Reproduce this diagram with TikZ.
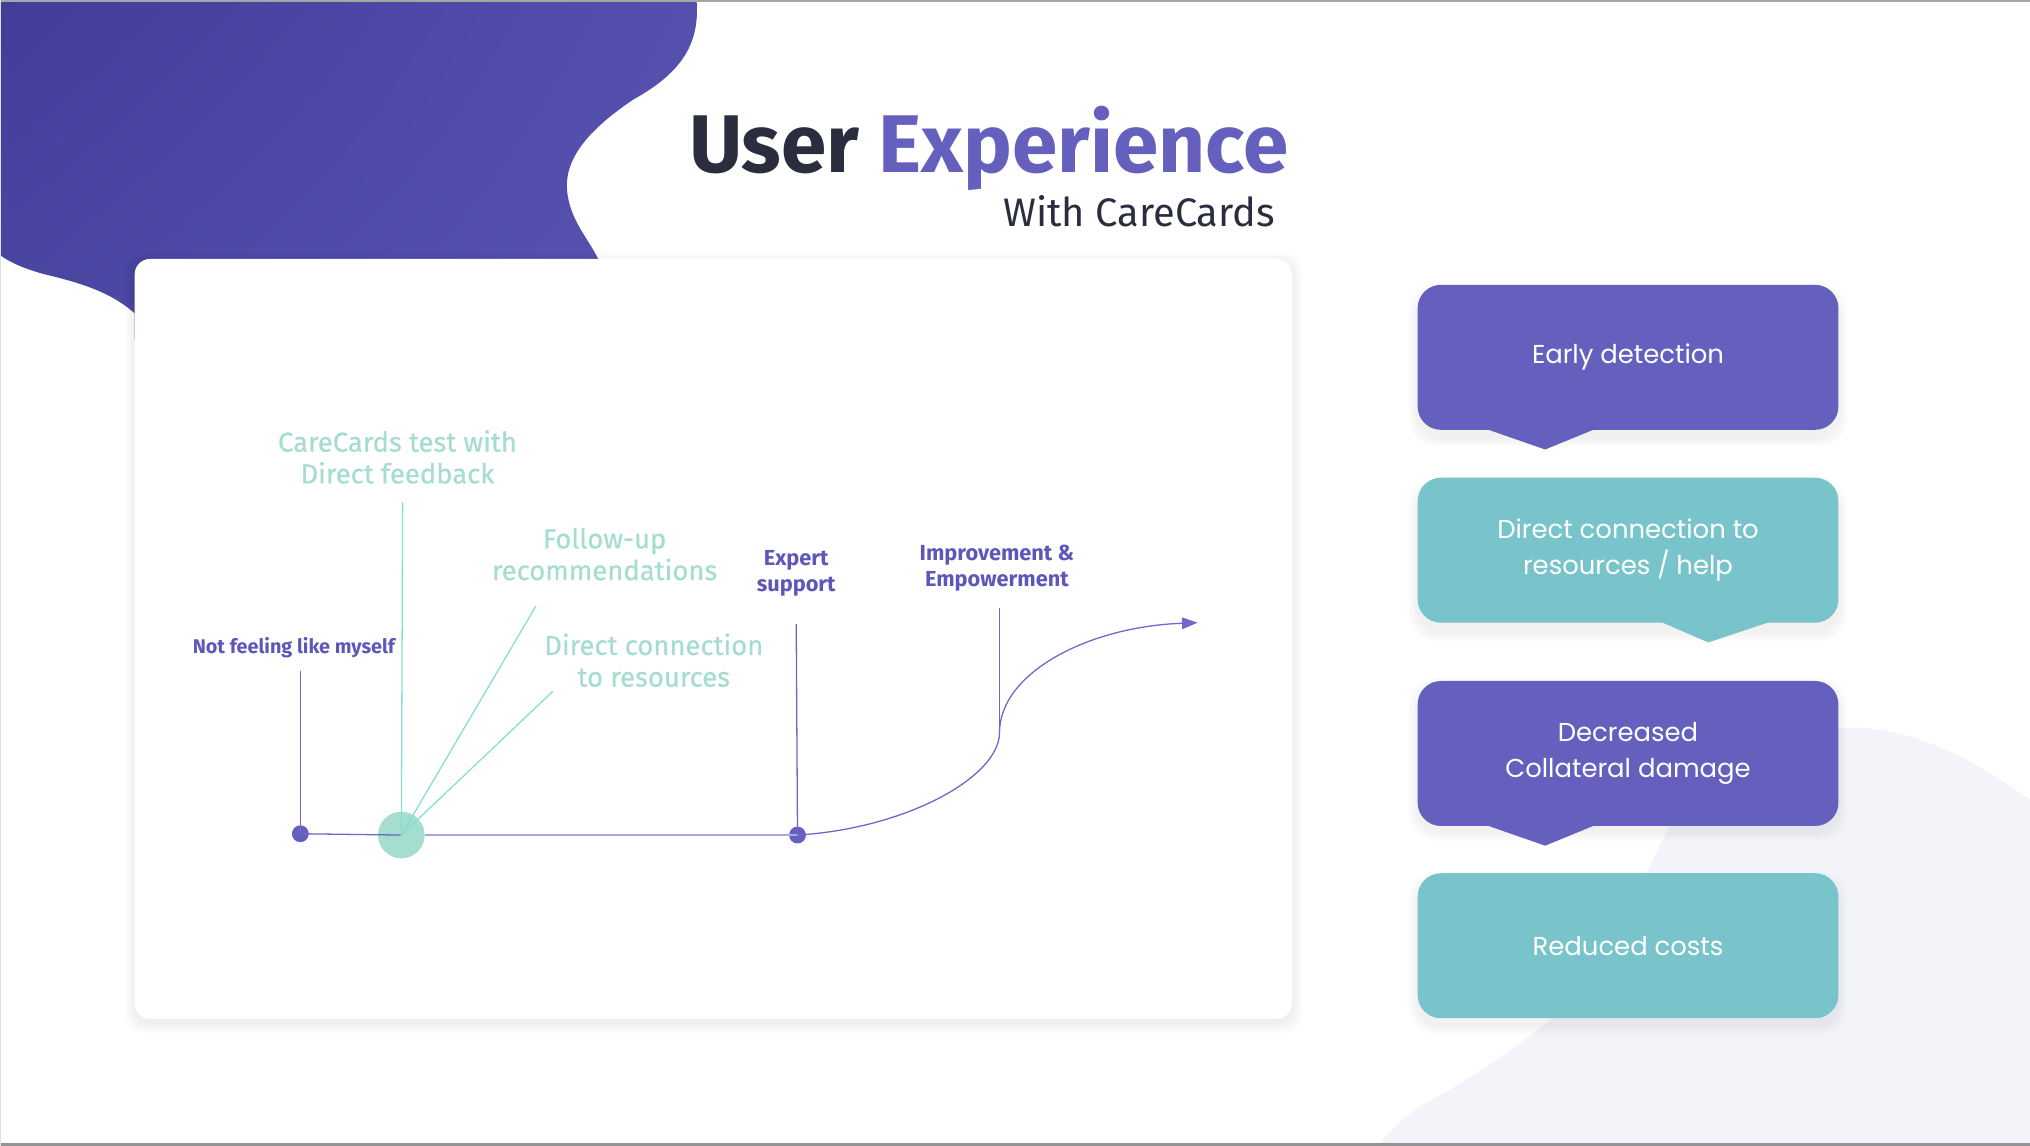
\documentclass[tikz,border=0pt]{standalone}
\usepackage{fontspec}
\setmainfont{Fira Sans}
\newfontfamily\boxfont{Poppins}
\newfontfamily\medfont[FakeBold=0.6]{Fira Sans}
\usetikzlibrary{arrows.meta,shadings}
\definecolor{blobA}{HTML}{433D99}
\definecolor{blobB}{HTML}{5550AE}
\definecolor{blobC}{HTML}{4A47A3}
\definecolor{blobD}{HTML}{5954B2}
\definecolor{darkT}{HTML}{2A2D3E}
\definecolor{purp}{HTML}{6560BD}
\definecolor{purpT}{HTML}{5E57BA}
\definecolor{purpL}{HTML}{6F68C9}
\definecolor{lav}{HTML}{ABA7E0}
\definecolor{mintT}{HTML}{A6DDD0}
\definecolor{mintL}{HTML}{88DFD0}
\definecolor{mintC}{HTML}{A5DDCF}
\definecolor{teal}{HTML}{79C4CB}
\definecolor{bgblob}{HTML}{F3F4F9}
\begin{document}
\begin{tikzpicture}[x=1pt,y=-1pt,
  mintlbl/.style={inner sep=0pt, align=center, text=mintT, font=\medfont\fontsize{21.2}{24.5}\selectfont},
  purplbl/.style={inner sep=0pt, align=center, text=purpT, font=\bfseries\fontsize{16.8}{20}\selectfont},
  rbox/.style={rectangle, rounded corners=18pt, minimum width=325pt, minimum height=112pt, inner sep=0pt,
    text=white, align=center, font=\boxfont\fontsize{20}{28}\selectfont},
  dotn/.style={circle, fill=purp, minimum size=13pt, inner sep=0pt},
  pline/.style={draw=purpL, line width=1pt},
  mline/.style={draw=mintL, line width=1pt}]
\useasboundingbox (0,0) rectangle (1568,885);
\fill[white] (0,0) rectangle (1568,885);
% bottom-right background blob
\fill[bgblob] (1064,885) .. controls (1085,860) and (1100,852) .. (1116,844)
  .. controls (1160,818) and (1215,780) .. (1235,747)
  .. controls (1262,705) and (1275,660) .. (1295,630)
  .. controls (1320,590) and (1370,563) .. (1430,562)
  .. controls (1480,562) and (1530,590) .. (1568,618) -- (1568,885) -- cycle;
% top-left blob
\shade[upper left=blobA, upper right=blobB, lower left=blobC, lower right=blobD]
  (0,0) -- (538,0) .. controls (541,35) and (525,57) .. (489,77)
  .. controls (455,100) and (436,122) .. (438,147)
  .. controls (440,170) and (455,185) .. (462,200) -- (462,262) -- (104,262) -- (104,242)
  .. controls (85,225) and (60,218) .. (35,212)
  .. controls (20,208) and (8,203) .. (0,197) -- cycle;
% card shadow
\foreach \i in {1,...,8}
  \fill[black, opacity=0.006, rounded corners=14pt] ({104-\i},{200-\i+3}) rectangle ({998+\i},{787+\i+3});
\node[rectangle, fill=white, rounded corners=12pt, minimum width=894pt, minimum height=587pt, inner sep=0pt] (card) at (551,493.5) {};
% title
\node[anchor=base west, inner sep=0pt, font=\bfseries\fontsize{63.2}{70}\selectfont] (title) at (532,133)
  {\textcolor{darkT}{User} \textcolor{purp}{Experience}};
\node[anchor=base east, inner sep=0pt, text=darkT, font=\fontsize{30.7}{34}\selectfont] (sub) at (985,175) {With CareCards};
% chart labels
\node[mintlbl] (lcc) at (307,353) {CareCards test with\\Direct feedback};
\node[mintlbl] (lfu) at (467,428) {Follow-up\\recommendations};
\node[mintlbl] (ldc) at (505,510) {Direct connection\\to resources};
\node[purplbl, font=\bfseries\fontsize{15.3}{18}\selectfont] (lnf) at (227,500) {Not feeling like myself};
\node[purplbl] (les) at (615,443) {Expert\\support};
\node[purplbl] (lie) at (770,439) {Improvement \&\\Empowerment};
% chart points
\node[circle, fill=mintC, minimum size=36pt, inner sep=0pt] (mc) at (310,645) {};
\node[dotn] (d1) at (232,644) {};
\node[dotn] (d2) at (616,645) {};
\coordinate (cnf) at (232,518);
\coordinate (ccc) at (311,388);
\coordinate (cfu) at (414,468);
\coordinate (cdc) at (427,534);
\coordinate (ces) at (615,482);
\coordinate (cie) at (772,470);
\coordinate (cmid) at (772,566);
\coordinate (cend) at (925,481);
% connectors
\draw[pline] (cnf) -- (d1.center);
\draw[pline] (d1.center) -- (mc.center);
\draw[draw=lav, line width=1pt] (mc.east) -- (d2.center);
\draw[pline] (ces) -- (d2.center);
\draw[mline] (ccc) -- (mc.center);
\draw[mline] (cfu) -- (mc.center);
\draw[mline] (cdc) -- (mc.center);
\draw[pline] (cie) -- (cmid);
\draw[pline, -{Triangle[length=12pt,width=9pt]}] (d2.center) .. controls (700,640) and (772,600) .. (cmid)
  .. controls (772,520) and (840,484) .. (cend);
% right boxes shadows
\foreach \y in {276,426.5,580.5,730.5}
  \foreach \i in {1,...,7}
    \fill[black, opacity=0.008, rounded corners=20pt] ({1095-\i},{\y-56-\i+6}) rectangle ({1420+\i},{\y+56+\i+6});
\node[rbox, fill=purp] (b1) at (1257.5,276) {Early detection};
\node[rbox, fill=teal] (b2) at (1257.5,425) {Direct connection to\\resources / help};
\node[rbox, fill=purp] (b3) at (1257.5,582) {Decreased\\Collateral damage};
\node[rbox, fill=teal] (b4) at (1257.5,730.5) {Reduced costs};
\fill[purp] ([xshift=-110pt,yshift=1pt]b1.south) -- ([xshift=-64pt,yshift=-15pt]b1.south) -- ([xshift=-25pt,yshift=1pt]b1.south) -- cycle;
\fill[teal] ([xshift=25pt,yshift=1pt]b2.south) -- ([xshift=62pt,yshift=-15pt]b2.south) -- ([xshift=110pt,yshift=1pt]b2.south) -- cycle;
\fill[purp] ([xshift=-110pt,yshift=1pt]b3.south) -- ([xshift=-64pt,yshift=-15pt]b3.south) -- ([xshift=-25pt,yshift=1pt]b3.south) -- cycle;
% frame lines
\draw[gray!70, line width=1.2pt] (0,0.6) -- (1568,0.6);
\draw[gray!85, line width=2.5pt] (0,883.75) -- (1568,883.75);
\draw[gray!25, line width=1pt] (0.5,0) -- (0.5,885);
\end{tikzpicture}
\end{document}
